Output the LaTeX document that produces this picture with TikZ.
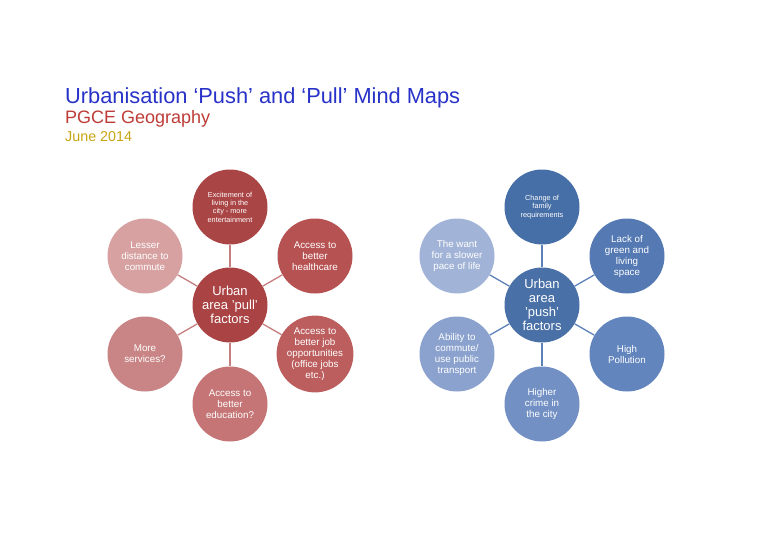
\documentclass[tikz,border=0pt]{standalone}
\usepackage{fontspec}
\setmainfont{Liberation Sans}
\begin{document}
\begin{tikzpicture}[x=1pt,y=-1pt,
 c/.style={circle,minimum size=75pt,inner sep=0pt,text=white,align=center,font=\fontsize{9.8}{11}\selectfont},
 big/.style={font=\fontsize{13}{14}\selectfont},
 tiny/.style={font=\fontsize{7.3}{8.4}\selectfont}]
\definecolor{r0}{HTML}{AA4343}\definecolor{r1}{HTML}{AA4545}\definecolor{r2}{HTML}{B75252}
\definecolor{r3}{HTML}{BC5E5E}\definecolor{r4}{HTML}{C57575}\definecolor{r5}{HTML}{C98585}\definecolor{r6}{HTML}{D7A1A1}
\definecolor{b0}{HTML}{4A71A7}\definecolor{b1}{HTML}{476FA7}\definecolor{b2}{HTML}{5479B3}
\definecolor{b3}{HTML}{6185BC}\definecolor{b4}{HTML}{7290C3}\definecolor{b5}{HTML}{8AA2CD}\definecolor{b6}{HTML}{A1B3D6}
\definecolor{lr}{HTML}{C67E7E}\definecolor{lb}{HTML}{5C82B9}
\fill[white] (0,0) rectangle (768,543);
\node[anchor=base west,text={rgb,255:red,40;green,50;blue,200},font=\fontsize{21.8}{24}\selectfont,inner sep=0] (t1) at (65,103) {Urbanisation ‘Push’ and ‘Pull’ Mind Maps};
\node[anchor=base west,text={rgb,255:red,190;green,60;blue,55},font=\fontsize{18}{20}\selectfont,inner sep=0] (t2) at (65,123) {PGCE Geography};
\node[anchor=base west,text={rgb,255:red,200;green,165;blue,20},font=\fontsize{14.3}{16}\selectfont,inner sep=0] (t3) at (65,141) {June 2014};
% pull
\node[c,fill=r0,big] (rc) at (230,305) {Urban\\area 'pull'\\factors};
\node[c,fill=r1,tiny] (r1) at (230,207) {Excitement of\\living in the\\city - more\\entertainment};
\node[c,fill=r2] (r2) at (315,256) {Access to\\better\\healthcare};
\node[c,fill=r3] (r3) at (315,354) {Access to\\better job\\opportunities\\(office jobs\\etc.)};
\node[c,fill=r4] (r4) at (230,404) {Access to\\better\\education?};
\node[c,fill=r5] (r5) at (145,354) {More\\services?};
\node[c,fill=r6] (r6) at (145,256) {Lesser\\distance to\\commute};
\foreach \n in {r1,r2,r3,r4,r5,r6} \draw[draw=lr,line width=1.3pt] (rc) -- (\n);
% push
\node[c,fill=b0,big] (bc) at (542,305) {Urban\\area\\'push'\\factors};
\node[c,fill=b1,tiny] (b1) at (542,207) {Change of\\family\\requirements};
\node[c,fill=b2] (b2) at (627,256) {Lack of\\green and\\living\\space};
\node[c,fill=b3] (b3) at (627,354) {High\\Pollution};
\node[c,fill=b4] (b4) at (542,404) {Higher\\crime in\\the city};
\node[c,fill=b5] (b5) at (457,354) {Ability to\\commute/\\use public\\transport};
\node[c,fill=b6] (b6) at (457,256) {The want\\for a slower\\pace of life};
\foreach \n in {b1,b2,b3,b4,b5,b6} \draw[draw=lb,line width=1.3pt] (bc) -- (\n);
\end{tikzpicture}
\end{document}
